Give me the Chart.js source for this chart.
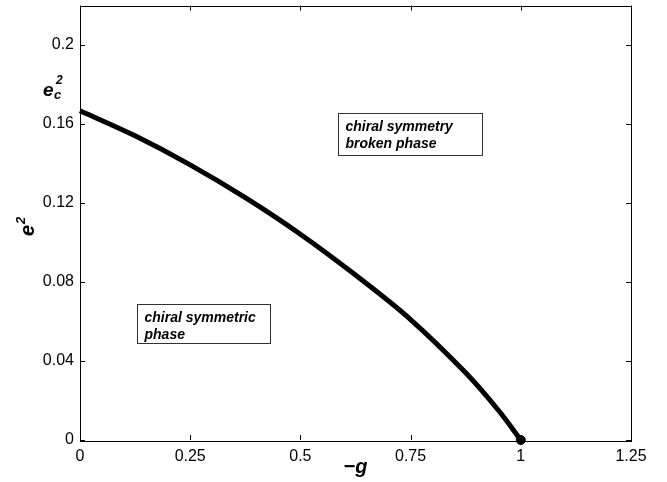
<!DOCTYPE html>
<html><head><meta charset="utf-8">
<script src="https://cdn.jsdelivr.net/npm/chart.js@4/dist/chart.umd.min.js"></script>
<style>html,body{margin:0;padding:0;background:#fff;}#wrap{width:667px;height:482px;}</style>
</head><body><div id="wrap"><canvas id="c" width="667" height="482"></canvas></div>
<script>
// ---- data ----
const gValues   = [0, 0.125, 0.25, 0.375, 0.5, 0.625, 0.75, 0.875, 0.95, 1];
const ec2Values = [0.1667, 0.1540, 0.1393, 0.1227, 0.1042, 0.0835, 0.0610, 0.0340, 0.0148, 0];
const endG = [1];
const endE = [0];
const xTicks = [0, 0.25, 0.5, 0.75, 1, 1.25];
const xTickLabels = ['0', '0.25', '0.5', '0.75', '1', '1.25'];
const yTicks = [0, 0.04, 0.08, 0.12, 0.16, 0.2];
const yTickLabels = ['0', '0.04', '0.08', '0.12', '0.16', '0.2'];
const xTitle = '\u2212g';
const yTitleBase = 'e';
const yTitleSup = '2';
const ecBase = 'e', ecSub = 'c', ecSup = '2';
const region1Lines = ['chiral symmetry', 'broken phase'];
const region2Lines = ['chiral symmetric', 'phase'];

const curve = gValues.map((g, i) => ({x: g, y: ec2Values[i]}));
const endPts = endG.map((g, i) => ({x: g, y: endE[i]}));

const FONT = '"Liberation Sans", Arial, Helvetica, sans-serif';

const deco = {
  id: 'deco',
  afterDraw(chart) {
    const ctx = chart.ctx, a = chart.chartArea;
    const xs = chart.scales.x, ys = chart.scales.y;
    ctx.save();
    ctx.strokeStyle = '#000'; ctx.lineWidth = 1;
    ctx.strokeRect(Math.round(a.left) + 0.5, Math.round(a.top) + 0.5,
                   Math.round(a.right - a.left), Math.round(a.bottom - a.top));
    const tl = 5;
    ctx.beginPath();
    xTicks.forEach(v => {
      const px = Math.round(xs.getPixelForValue(v)) + 0.5;
      ctx.moveTo(px, a.bottom); ctx.lineTo(px, a.bottom - tl);
      ctx.moveTo(px, a.top); ctx.lineTo(px, a.top + tl);
    });
    yTicks.forEach(v => {
      const py = Math.round(ys.getPixelForValue(v)) + 0.5;
      ctx.moveTo(a.left, py); ctx.lineTo(a.left + tl, py);
      ctx.moveTo(a.right, py); ctx.lineTo(a.right - tl, py);
    });
    ctx.stroke();

    // region annotations
    const box = (lines, x0, y0, x1, y1) => {
      const L = Math.round(xs.getPixelForValue(x0)) + 0.5, R = Math.round(xs.getPixelForValue(x1)) + 0.5;
      const T = Math.round(ys.getPixelForValue(y0)) + 0.5, B = Math.round(ys.getPixelForValue(y1)) + 0.5;
      ctx.fillStyle = '#fff'; ctx.fillRect(L, T, R - L, B - T);
      ctx.strokeStyle = '#333'; ctx.lineWidth = 1; ctx.strokeRect(L, T, R - L, B - T);
      ctx.fillStyle = '#000';
      ctx.font = 'italic bold 14px ' + FONT;
      ctx.textBaseline = 'middle'; ctx.textAlign = 'left';
      lines.forEach((t, i) => ctx.fillText(t, L + 7, T + 14 + i * 17));
    };
    box(region1Lines, 0.586, 0.1654, 0.911, 0.1443);
    box(region2Lines, 0.129, 0.0691, 0.432, 0.0489);

    // e_c^2 label
    ctx.fillStyle = '#000'; ctx.textAlign = 'left'; ctx.textBaseline = 'alphabetic';
    ctx.font = 'italic bold 19px ' + FONT;
    ctx.fillText(ecBase, 43, 96);
    ctx.font = 'italic bold 12px ' + FONT;
    ctx.fillText(ecSup, 56, 84);
    ctx.font = 'italic bold 13px ' + FONT;
    ctx.fillText(ecSub, 54, 99);

    // y axis title e^2 (rotated)
    ctx.translate(34, 236);
    ctx.rotate(-Math.PI / 2);
    ctx.font = 'italic bold 20px ' + FONT;
    ctx.fillText(yTitleBase, 0, 0);
    ctx.font = 'italic bold 13px ' + FONT;
    ctx.fillText(yTitleSup, 12, -9);
    ctx.restore();
  }
};

new Chart(document.getElementById('c'), {
  type: 'scatter',
  data: {
    datasets: [
      {data: curve, showLine: true, borderColor: '#000', borderWidth: 5, pointRadius: 0,
       tension: 0.35, clip: false},
      {data: endPts, showLine: false, pointRadius: 4.5, backgroundColor: '#000', borderColor: '#000', clip: false}
    ]
  },
  options: {
    responsive: false, animation: false, devicePixelRatio: 1,
    layout: {padding: {top: 5, right: 36, left: 0, bottom: 0}},
    plugins: {legend: {display: false}, tooltip: {enabled: false}},
    scales: {
      x: {
        type: 'linear', min: 0, max: 1.25,
        afterBuildTicks: s => { s.ticks = xTicks.map(v => ({value: v})); },
        afterFit: s => { s.height = 42; s.paddingLeft = 0; s.paddingRight = 0; },
        grid: {display: false, drawTicks: false}, border: {display: false},
        ticks: {padding: 7, color: '#000', font: {family: FONT, size: 16},
                callback: v => xTickLabels[xTicks.indexOf(v)] ?? ''},
        title: {display: true, text: xTitle, color: '#000', padding: {top: 4, bottom: 3},
                font: {family: FONT, size: 20, weight: 'bold', style: 'italic'}}
      },
      y: {
        type: 'linear', min: 0, max: 0.22,
        afterBuildTicks: s => { s.ticks = yTicks.map(v => ({value: v})); },
        afterFit: s => { s.width = 80; s.paddingTop = 0; s.paddingBottom = 0; },
        grid: {display: false, drawTicks: false}, border: {display: false},
        ticks: {padding: 6, color: '#000', font: {family: FONT, size: 16},
                callback: v => { const i = yTicks.findIndex(t => Math.abs(t - v) < 1e-9); return i >= 0 ? yTickLabels[i] : ''; }},
        title: {display: false}
      }
    }
  },
  plugins: [deco]
});
</script></body></html>
